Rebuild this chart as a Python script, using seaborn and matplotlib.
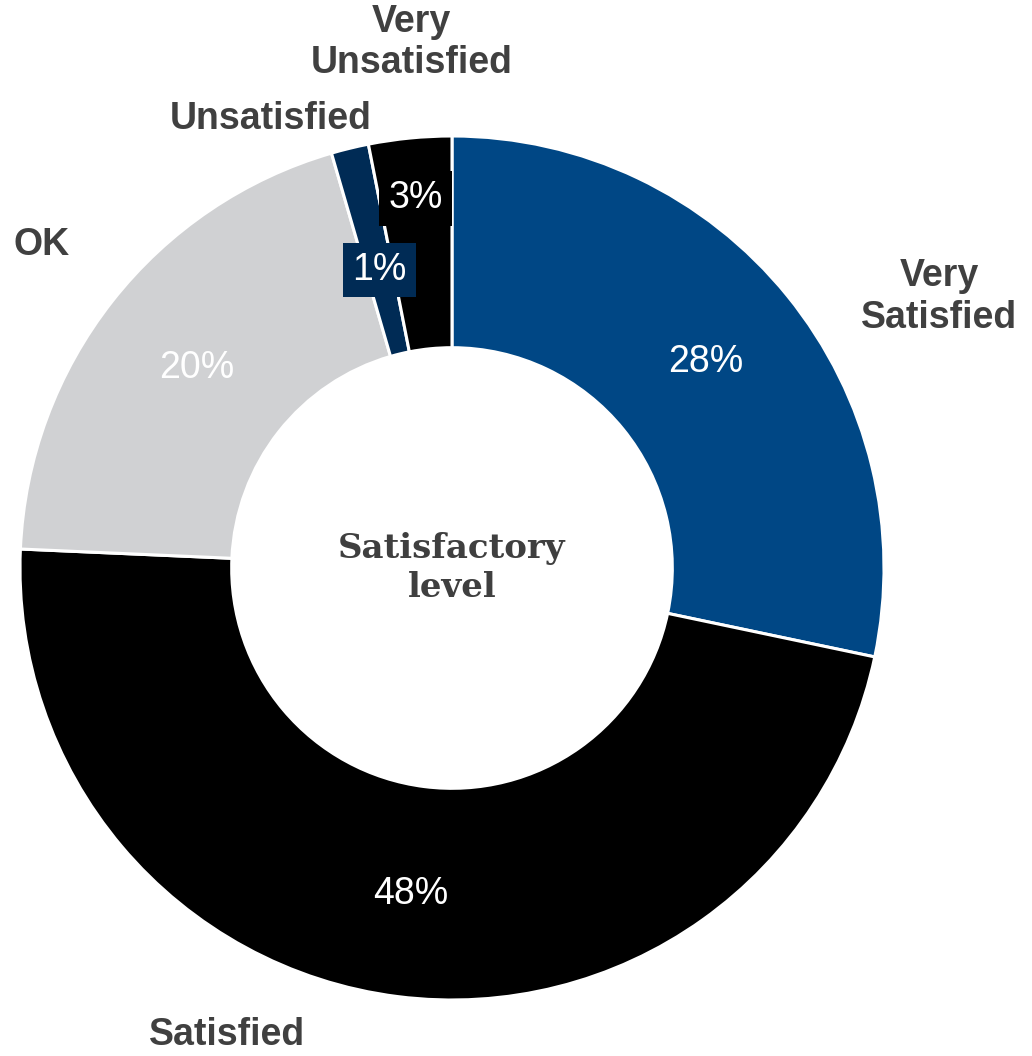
import numpy as np
import seaborn as sns
import matplotlib.pyplot as plt

# satisfaction shares (%), clockwise from 12 o'clock
levels = ["Very\nSatisfied", "Satisfied", "OK", "Unsatisfied", "Very\nUnsatisfied"]
shares = [28.3, 47.4, 19.8, 1.4, 3.1]
pct_labels = ["28%", "48%", "20%", "1%", "3%"]

colors = ["#004785", "#000000", "#D0D1D3", "#002B55", "#000000"]
pct_dist = [0.755, 0.76, 0.75, 0.71, 0.86]
pct_box = [None, None, None, "#002B55", "#000000"]
# outer label placement: (angle clockwise from top in deg, radius)
name_pos = [(60.9, 1.29), (205.7, 1.20), (308.2, 1.21), (338.0, 1.12), (355.6, 1.22)]

sns.set_theme(style="white")
plt.rcParams['font.family'] = ['Liberation Sans', 'DejaVu Sans']

fig = plt.figure(figsize=(10.32, 10.56), dpi=100)
ax = fig.add_axes([0, 0, 1, 1])

wedges, _ = ax.pie(shares, colors=colors, startangle=90, counterclock=False,
                   radius=1.0, wedgeprops=dict(width=0.49, edgecolor="white", linewidth=2.2))

total = sum(shares)
cum = np.cumsum([0] + shares[:-1])
for i, w in enumerate(wedges):
    mid = (cum[i] + shares[i] / 2) / total * 360
    th = np.deg2rad(90 - mid)
    r = pct_dist[i]
    kw = dict(ha="center", va="center", fontsize=27, color="white")
    if pct_box[i]:
        kw["bbox"] = dict(boxstyle="square,pad=0.25", fc=pct_box[i], ec="none")
    ax.text(r * np.cos(th), r * np.sin(th), pct_labels[i], **kw)

for name, (ang, r) in zip(levels, name_pos):
    th = np.deg2rad(90 - ang)
    ax.text(r * np.cos(th), r * np.sin(th), name, ha="center", va="center",
            fontsize=27, fontweight="bold", color="#404040", linespacing=1.2)

ax.text(0, 0, "Satisfactory\nlevel", ha="center", va="center", fontsize=24.5,
        fontweight="bold", color="#3F3F3F", family=["DejaVu Serif"], linespacing=1.25)

ax.set_aspect("equal")
ax.set_xlim(-452 / 432, (1032 - 452) / 432)
ax.set_ylim(-(1056 - 568) / 432, 568 / 432)
ax.axis("off")

fig.savefig("out.png", dpi=100, facecolor="white")
